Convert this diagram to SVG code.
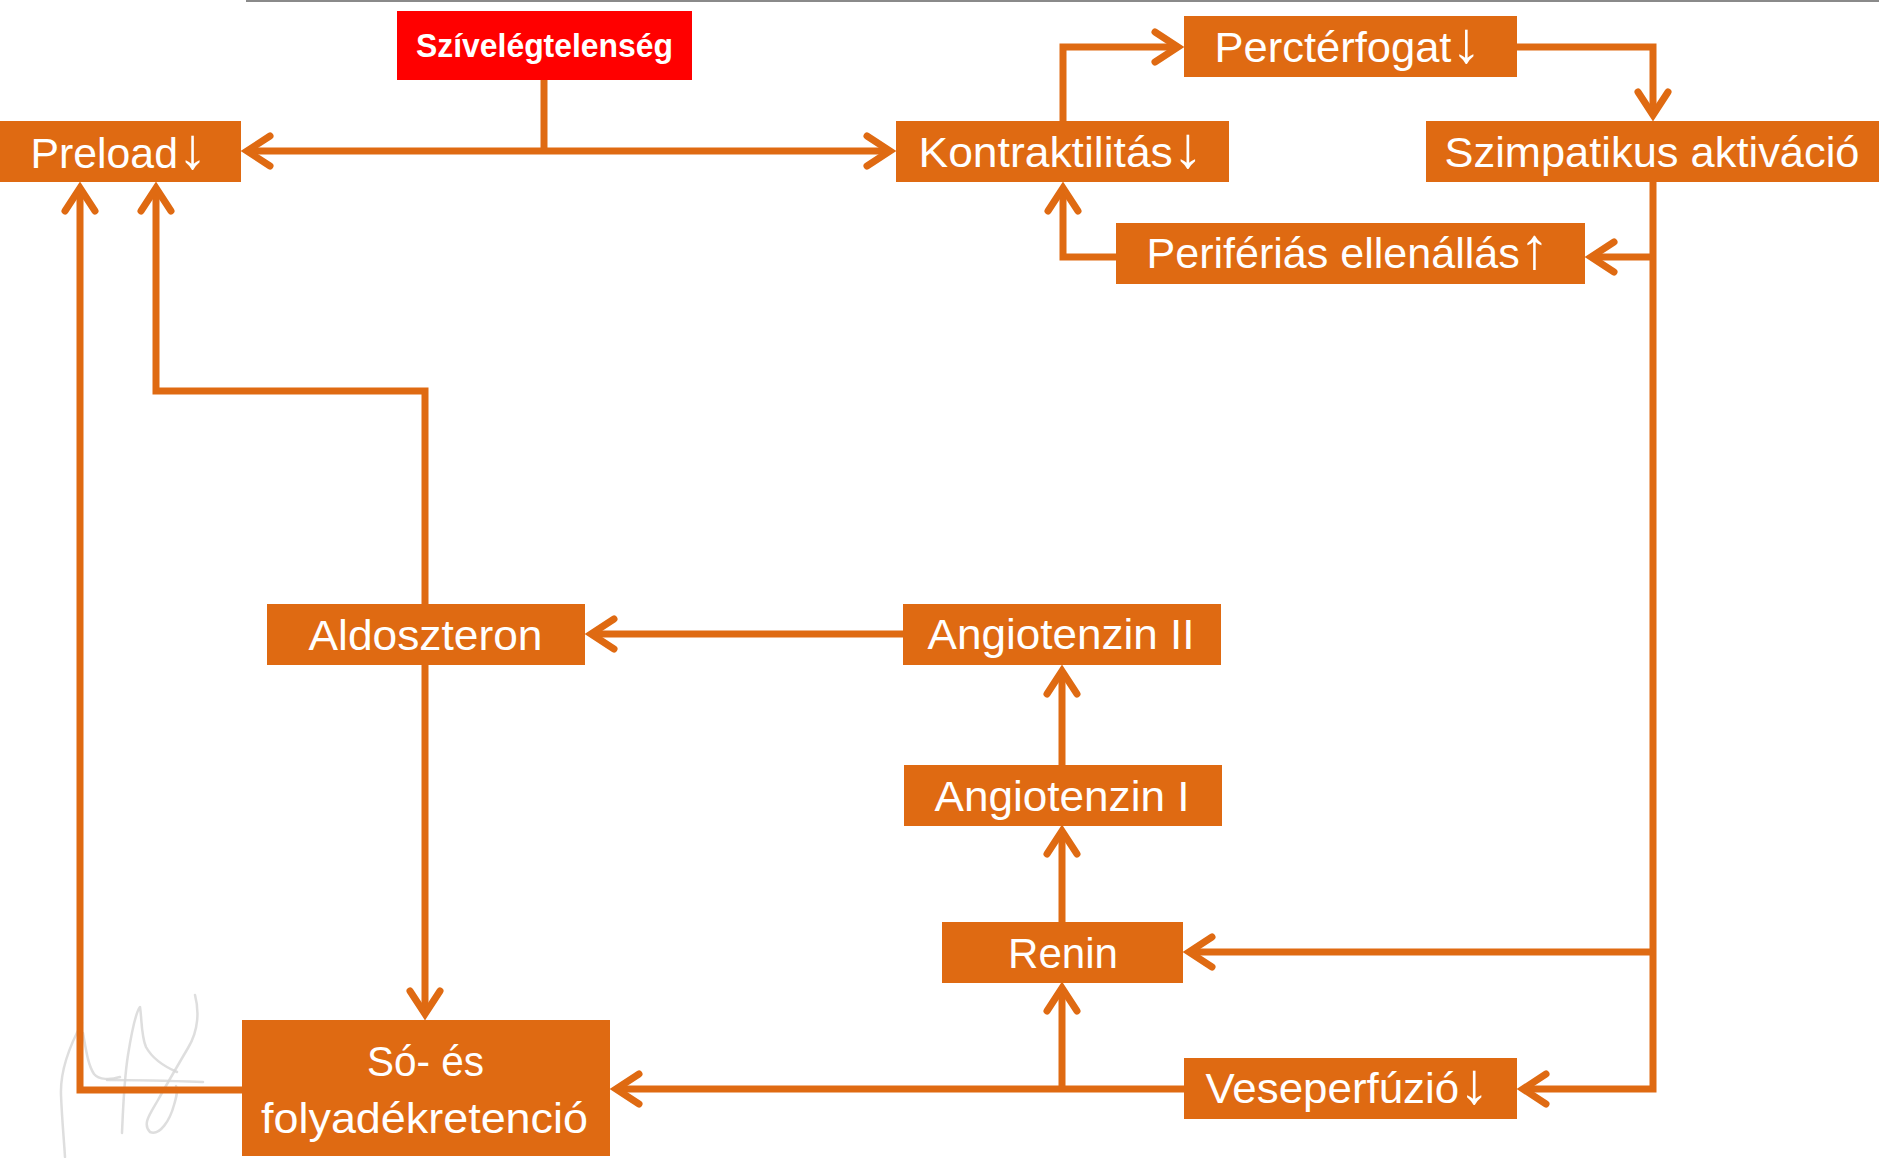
<svg xmlns="http://www.w3.org/2000/svg" width="1879" height="1158" viewBox="0 0 1879 1158">
  <style>
    .box { fill: #DF6A12; }
    .start { fill: #FF0000; }
    .lbl { font-family: "Liberation Sans", Arial, sans-serif; font-size: 42px; fill: #FFFFFF; text-anchor: middle; }
    .ar { font-size: 58px; }
    .title { font-family: "Liberation Sans", Arial, sans-serif; font-size: 33px; font-weight: bold; fill: #FFFFFF; text-anchor: middle; }
    .wire { fill: none; stroke: #DF6A12; stroke-width: 7; stroke-linejoin: miter; }
    .arr { marker-end: url(#head); }
    .sig { fill: none; stroke: #D6D6D6; stroke-width: 2.5; stroke-linecap: round; stroke-linejoin: round; opacity: 0.8; }
  </style>
  <defs>
    <marker id="head" markerUnits="userSpaceOnUse" markerWidth="60" markerHeight="60" refX="0" refY="0" viewBox="-40 -30 60 60" orient="auto" overflow="visible">
      <path d="M-23,-15 L0,0 L-23,15" fill="none" stroke="#DF6A12" stroke-width="7" stroke-linecap="round" stroke-linejoin="miter"/>
    </marker>
  </defs>

  <rect width="1879" height="1158" fill="#FFFFFF"/>
  <!-- header rule -->
  <line x1="246" y1="1" x2="1879" y2="1" stroke="#8A8A8A" stroke-width="2"/>

  <!-- faint hand signature, lower left -->
  <g id="signature">
    <path class="sig" d="M82,1023 C70,1045 60,1070 61,1095 C62,1120 64,1140 65,1157"/>
    <path class="sig" d="M83,1033 C86,1050 88,1065 94,1074 C99,1080 110,1080 120,1077"/>
    <path class="sig" d="M122,1133 C123,1110 124,1080 128,1055 C132,1030 136,1012 140,1007 C142,1020 141,1035 146,1047 C152,1058 163,1066 177,1072"/>
    <path class="sig" d="M195,995 C199,1010 199,1030 188,1048 C178,1065 168,1082 158,1100 C150,1114 142,1124 150,1132 C160,1136 170,1120 174,1105 C177,1095 178,1090 176,1086"/>
    <path class="sig" d="M107,1080 C140,1080 175,1081 203,1082"/>
  </g>

  <!-- connectors -->
  <g id="connectors">
    <!-- heart failure splits to preload and contractility -->
    <path class="wire" d="M544,80 V151"/>
    <path class="wire arr" d="M544,151 H247"/>
    <path class="wire arr" d="M544,151 H890"/>
    <!-- contractility -> cardiac output -->
    <path class="wire arr" d="M1063,121 V47 H1178"/>
    <!-- cardiac output -> sympathetic activation -->
    <path class="wire arr" d="M1517,47 H1653 V115"/>
    <!-- sympathetic activation trunk -->
    <path class="wire arr" d="M1653,182 V1089 H1523"/>
    <path class="wire arr" d="M1653,257 H1591"/>
    <path class="wire arr" d="M1653,952 H1189"/>
    <!-- peripheral resistance -> contractility -->
    <path class="wire arr" d="M1116,257 H1063 V188"/>
    <!-- renal perfusion -> salt/fluid retention and renin -->
    <path class="wire arr" d="M1184,1089 H616"/>
    <path class="wire arr" d="M1062,1089 V988"/>
    <!-- RAAS chain -->
    <path class="wire arr" d="M1062,922 V831"/>
    <path class="wire arr" d="M1062,765 V671"/>
    <path class="wire arr" d="M903,634 H591"/>
    <!-- aldosterone -> preload, aldosterone -> retention -->
    <path class="wire arr" d="M425,604 V391 H156 V188"/>
    <path class="wire arr" d="M425,665 V1014"/>
    <!-- retention -> preload -->
    <path class="wire arr" d="M242,1090 H80 V188"/>
  </g>

  <!-- nodes -->
  <g id="n-szivelegtelenseg">
    <rect class="start" x="397" y="11" width="295" height="69"/>
    <text class="title" x="544.5" y="57" textLength="257" lengthAdjust="spacingAndGlyphs">Szívelégtelenség</text>
  </g>
  <g id="n-preload">
    <rect class="box" x="0" y="121" width="241" height="61"/>
    <text class="lbl" x="119" y="168" textLength="177" lengthAdjust="spacingAndGlyphs">Preload<tspan class="ar">↓</tspan></text>
  </g>
  <g id="n-kontraktilitas">
    <rect class="box" x="896" y="121" width="333" height="61"/>
    <text class="lbl" x="1061" y="167" textLength="285" lengthAdjust="spacingAndGlyphs">Kontraktilitás<tspan class="ar">↓</tspan></text>
  </g>
  <g id="n-percterfogat">
    <rect class="box" x="1184" y="16" width="333" height="61"/>
    <text class="lbl" x="1348" y="62" textLength="267" lengthAdjust="spacingAndGlyphs">Perctérfogat<tspan class="ar">↓</tspan></text>
  </g>
  <g id="n-szimpatikus">
    <rect class="box" x="1426" y="121" width="453" height="61"/>
    <text class="lbl" x="1652" y="167" textLength="415" lengthAdjust="spacingAndGlyphs">Szimpatikus aktiváció</text>
  </g>
  <g id="n-periferias">
    <rect class="box" x="1116" y="223" width="469" height="61"/>
    <text class="lbl" x="1348" y="268" textLength="403" lengthAdjust="spacingAndGlyphs">Perifériás ellenállás<tspan class="ar">↑</tspan></text>
  </g>
  <g id="n-aldoszteron">
    <rect class="box" x="267" y="604" width="318" height="61"/>
    <text class="lbl" x="425.5" y="650" textLength="234" lengthAdjust="spacingAndGlyphs">Aldoszteron</text>
  </g>
  <g id="n-angiotenzin2">
    <rect class="box" x="903" y="604" width="318" height="61"/>
    <text class="lbl" x="1061" y="649" textLength="267" lengthAdjust="spacingAndGlyphs">Angiotenzin II</text>
  </g>
  <g id="n-angiotenzin1">
    <rect class="box" x="904" y="765" width="318" height="61"/>
    <text class="lbl" x="1062" y="811" textLength="255" lengthAdjust="spacingAndGlyphs">Angiotenzin I</text>
  </g>
  <g id="n-renin">
    <rect class="box" x="942" y="922" width="241" height="61"/>
    <text class="lbl" x="1063" y="968" textLength="110" lengthAdjust="spacingAndGlyphs">Renin</text>
  </g>
  <g id="n-veseperfuzio">
    <rect class="box" x="1184" y="1058" width="333" height="61"/>
    <text class="lbl" x="1347.5" y="1103" textLength="284" lengthAdjust="spacingAndGlyphs">Veseperfúzió<tspan class="ar">↓</tspan></text>
  </g>
  <g id="n-so-folyadek">
    <rect class="box" x="242" y="1020" width="368" height="136"/>
    <text class="lbl" x="425.5" y="1076" textLength="117" lengthAdjust="spacingAndGlyphs">Só- és</text>
    <text class="lbl" x="424.5" y="1133" textLength="327" lengthAdjust="spacingAndGlyphs">folyadékretenció</text>
  </g>
</svg>
